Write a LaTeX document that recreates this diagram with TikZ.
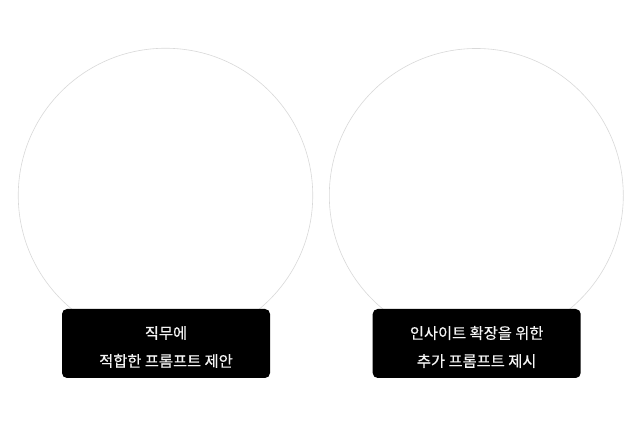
\documentclass[tikz,border=0pt]{standalone}
\usepackage{fontspec}
\newfontfamily\kr[FakeBold=0.6]{Noto Sans CJK KR}
\begin{document}
\begin{tikzpicture}[x=1pt,y=1pt,
  ring/.style={draw=black!15,line width=0.6pt},
  labelbox/.style={fill=black,rounded corners=5pt,minimum width=208pt,minimum height=69pt,inner sep=0pt},
  labeltext/.style={text=white!96!black,align=center,font=\kr\fontsize{15.3}{28}\selectfont,inner sep=0pt}]
\useasboundingbox (0,0) rectangle (640,427);
\fill[white] (0,0) rectangle (640,427);
\node[ring,circle,minimum size=294.5pt,inner sep=0pt] (c1) at (165.5,231.5) {};
\node[ring,circle,minimum size=294pt,inner sep=0pt] (c2) at (476.3,231.5) {};
\node[labelbox] (b1) at (166,83.5) {};
\node[labelbox] (b2) at (476.7,83.5) {};
\node[labeltext,yshift=-3.5pt] (t1) at (b1.center) {직무에\\적합한 프롬프트 제안};
\node[labeltext,yshift=-3.5pt] (t2) at (b2.center) {인사이트 확장을 위한\\추가 프롬프트 제시};
\end{tikzpicture}
\end{document}
